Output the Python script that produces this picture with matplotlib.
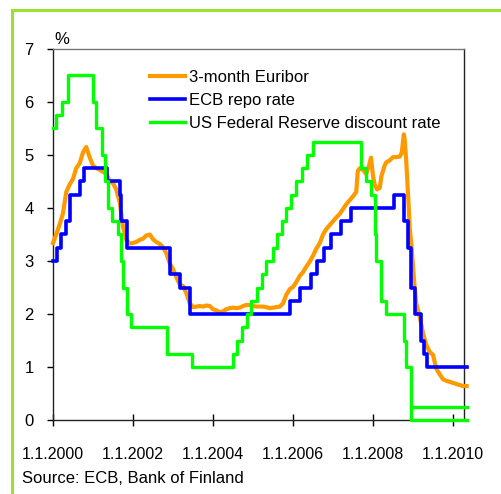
import matplotlib
matplotlib.use("Agg")
import matplotlib.pyplot as plt
from matplotlib.patches import Rectangle
import datetime as dt

plt.rcParams['font.family'] = ['Liberation Sans', 'DejaVu Sans']

def dec(s):
    d = dt.date.fromisoformat(s)
    start = dt.date(d.year, 1, 1)
    end = dt.date(d.year + 1, 1, 1)
    return d.year + (d - start).days / (end - start).days

# 3-month Euribor (decimal year, %)
euribor_t = [2000.00, 2000.08, 2000.17, 2000.25, 2000.33, 2000.42, 2000.50, 2000.58, 2000.67, 2000.75,
             2000.83, 2000.92, 2001.00, 2001.08, 2001.17, 2001.25, 2001.33, 2001.42, 2001.50, 2001.58,
             2001.67, 2001.75, 2001.83, 2001.92, 2002.00, 2002.08, 2002.17, 2002.25, 2002.33, 2002.42,
             2002.50, 2002.58, 2002.67, 2002.75, 2002.83, 2002.92, 2003.00, 2003.08, 2003.17, 2003.25,
             2003.33, 2003.42, 2003.50, 2003.58, 2003.67, 2003.75, 2003.83, 2003.92, 2004.00, 2004.08,
             2004.17, 2004.25, 2004.33, 2004.42, 2004.50, 2004.58, 2004.67, 2004.75, 2004.83, 2004.92,
             2005.00, 2005.08, 2005.17, 2005.25, 2005.33, 2005.42, 2005.50, 2005.58, 2005.67, 2005.75,
             2005.83, 2005.92, 2006.00, 2006.08, 2006.17, 2006.25, 2006.33, 2006.42, 2006.50, 2006.58,
             2006.67, 2006.75, 2006.83, 2006.92, 2007.00, 2007.08, 2007.17, 2007.25, 2007.33, 2007.42,
             2007.50, 2007.58, 2007.62, 2007.67, 2007.75, 2007.83, 2007.90, 2007.95, 2008.00, 2008.04,
             2008.10, 2008.17, 2008.21, 2008.29, 2008.33, 2008.42, 2008.50, 2008.58, 2008.67, 2008.72,
             2008.77, 2008.79, 2008.83, 2008.88, 2008.92, 2008.96, 2009.00, 2009.04, 2009.08, 2009.17,
             2009.25, 2009.33, 2009.42, 2009.50, 2009.58, 2009.67, 2009.75, 2009.83, 2009.92, 2010.00,
             2010.08, 2010.17, 2010.25, 2010.34]
euribor_v = [3.34, 3.50, 3.70, 3.90, 4.30, 4.45, 4.55, 4.75, 4.85, 5.05,
             5.15, 4.95, 4.80, 4.75, 4.72, 4.68, 4.65, 4.50, 4.47, 4.35,
             4.10, 3.65, 3.40, 3.33, 3.34, 3.36, 3.40, 3.42, 3.48, 3.50,
             3.41, 3.36, 3.32, 3.26, 3.15, 2.95, 2.85, 2.70, 2.55, 2.53,
             2.40, 2.20, 2.13, 2.14, 2.15, 2.14, 2.16, 2.15, 2.09, 2.07,
             2.03, 2.05, 2.09, 2.11, 2.12, 2.11, 2.12, 2.15, 2.17, 2.17,
             2.15, 2.14, 2.14, 2.14, 2.13, 2.11, 2.12, 2.13, 2.14, 2.20,
             2.36, 2.47, 2.51, 2.60, 2.72, 2.79, 2.89, 2.99, 3.10, 3.23,
             3.34, 3.50, 3.60, 3.68, 3.75, 3.82, 3.89, 3.98, 4.07, 4.15,
             4.22, 4.30, 4.70, 4.75, 4.72, 4.64, 4.80, 4.95, 4.60, 4.45,
             4.35, 4.38, 4.60, 4.80, 4.86, 4.90, 4.96, 4.96, 4.97, 5.05,
             5.39, 5.30, 4.90, 4.20, 3.60, 3.30, 2.90, 2.50, 2.20, 1.94,
             1.64, 1.42, 1.28, 1.23, 0.97, 0.86, 0.77, 0.74, 0.72, 0.70,
             0.68, 0.66, 0.64, 0.64]

# ECB repo rate (change dates, %)
ecb_dates = ['2000-01-01', '2000-02-04', '2000-03-17', '2000-04-28', '2000-06-09', '2000-09-06',
             '2000-10-11', '2001-05-11', '2001-08-31', '2001-09-18', '2001-11-09', '2002-12-06',
             '2003-03-07', '2003-06-06', '2005-12-06', '2006-03-08', '2006-06-15', '2006-08-09',
             '2006-10-11', '2006-12-13', '2007-03-14', '2007-06-13', '2008-07-09', '2008-10-15',
             '2008-11-12', '2008-12-10', '2009-01-21', '2009-03-11', '2009-04-08', '2009-05-13',
             '2010-05-06']
ecb_vals = [3.00, 3.25, 3.50, 3.75, 4.25, 4.50, 4.75, 4.50, 4.25, 3.75, 3.25, 2.75,
            2.50, 2.00, 2.25, 2.50, 2.75, 3.00, 3.25, 3.50, 3.75, 4.00, 4.25, 3.75,
            3.25, 2.50, 2.00, 1.50, 1.25, 1.00, 1.00]

# US Federal Reserve rate (change dates, %)
fed_dates = ['2000-01-01', '2000-02-02', '2000-03-21', '2000-05-16', '2001-01-03', '2001-01-31',
             '2001-03-20', '2001-04-18', '2001-05-15', '2001-06-27', '2001-08-21', '2001-09-17',
             '2001-10-02', '2001-11-06', '2001-12-11', '2002-11-06', '2003-06-25', '2004-06-30',
             '2004-08-10', '2004-09-21', '2004-11-10', '2004-12-14', '2005-02-02', '2005-03-22',
             '2005-05-03', '2005-06-30', '2005-08-09', '2005-09-20', '2005-11-01', '2005-12-13',
             '2006-01-31', '2006-03-28', '2006-05-10', '2006-06-29', '2007-09-18', '2007-10-31',
             '2007-12-11', '2008-01-22', '2008-01-30', '2008-03-18', '2008-04-30', '2008-10-08',
             '2008-10-29', '2008-12-16', '2010-05-06']
fed_vals = [5.50, 5.75, 6.00, 6.50, 6.00, 5.50, 5.00, 4.50, 4.00, 3.75, 3.50, 3.00,
            2.50, 2.00, 1.75, 1.25, 1.00, 1.25, 1.50, 1.75, 2.00, 2.25, 2.50, 2.75,
            3.00, 3.25, 3.50, 3.75, 4.00, 4.25, 4.50, 4.75, 5.00, 5.25, 4.75, 4.50,
            4.25, 3.50, 3.00, 2.25, 2.00, 1.50, 1.00, 0.00, 0.00]
fed_upper_dates = ['2008-12-16', '2010-05-06']
fed_upper_vals = [0.25, 0.25]

xtick_years = [2000, 2002, 2004, 2006, 2008, 2010]
xtick_labels = ['1.1.2000', '1.1.2002', '1.1.2004', '1.1.2006', '1.1.2008', '1.1.2010']
yticks = [0, 1, 2, 3, 4, 5, 6, 7]

END = 2010.35

def clip_end(ts, vs):
    return [min(t, END) for t in ts], list(vs)

fig = plt.figure(figsize=(5.01, 4.94), dpi=100)
fig.patches.append(Rectangle((12 / 501, -0.05), 1.1, 1 - 10 / 494 + 0.05, transform=fig.transFigure,
                             fill=False, edgecolor='#9be22d', linewidth=2.2))
ax = fig.add_axes([53 / 501, 1 - 420 / 494, (464 - 53) / 501, (420 - 49) / 494])

et, ev = clip_end(euribor_t, euribor_v)
ax.plot(et, ev, color='#ff9900', lw=3.0, label='3-month Euribor', clip_on=False, zorder=3)
bt, bv = clip_end([dec(d) for d in ecb_dates], ecb_vals)
ax.step(bt, bv, where='post', color='#0000ff', lw=2.6, label='ECB repo rate', clip_on=False, zorder=4)
gt, gv = clip_end([dec(d) for d in fed_dates], fed_vals)
ax.step(gt, gv, where='post', color='#00ff00', lw=2.4, label='US Federal Reserve discount rate',
        clip_on=False, zorder=5)
ut, uv = clip_end([dec(d) for d in fed_upper_dates], fed_upper_vals)
ax.plot(ut, uv, color='#00ff00', lw=2.4, clip_on=False, zorder=5)

ax.set_xlim(2000.0, 2010.275)
ax.set_ylim(0, 7)
ax.set_xticks(xtick_years)
ax.set_xticklabels(xtick_labels)
ax.set_yticks(yticks)
ax.tick_params(axis='x', direction='inout', length=9, width=1, pad=15, labelsize=11.5, colors='black')
ax.tick_params(axis='y', direction='out', length=4, width=1, pad=10, labelsize=12)
for s in ['left', 'bottom', 'right']:
    ax.spines[s].set_color('#222222')
    ax.spines[s].set_linewidth(1)
ax.spines['top'].set_color('#777777')
ax.spines['top'].set_linewidth(1)

leg = ax.legend(loc='upper left', bbox_to_anchor=(90 / 411, 1 - 14 / 371), frameon=False, fontsize=12,
                handlelength=2.1, handletextpad=0.25, labelspacing=0.5, borderaxespad=0)

fig.text(62 / 501, 1 - 39 / 494, '%', fontsize=12, ha='center', va='center')
fig.text(22 / 501, 1 - 478 / 494, 'Source: ECB, Bank of Finland', fontsize=12, ha='left', va='center')

fig.savefig('out.png', dpi=100)
